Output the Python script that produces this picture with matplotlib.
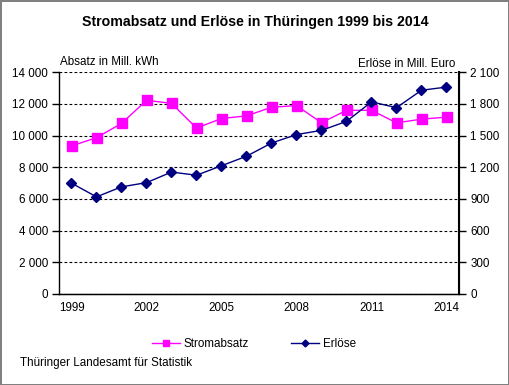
import matplotlib
matplotlib.use("Agg")
import matplotlib.pyplot as plt
from matplotlib.ticker import FuncFormatter, MultipleLocator

plt.rcParams['font.family'] = ['Liberation Sans', 'DejaVu Sans']

years = list(range(1999, 2015))
absatz = [9350, 9870, 10770, 12230, 12040, 10480, 11080, 11250,
          11790, 11900, 10810, 11600, 11600, 10810, 11040, 11170]
erloese = [1050, 920, 1015, 1055, 1155, 1125, 1215, 1305,
           1430, 1510, 1550, 1635, 1820, 1765, 1930, 1960]
year_labels = [str(y) if (y - 1999) % 3 == 0 else '' for y in years]

FS = 8.4


def thousands(v, pos):
    return f"{int(v):,}".replace(",", " ")


fig = plt.figure(figsize=(5.09, 3.85), dpi=100)
fig.patch.set_edgecolor('#808080')
fig.patch.set_linewidth(2)

ax = fig.add_axes([59 / 509, 1 - 294 / 385, 400 / 509, (294 - 72.3) / 385])
ax2 = ax.twinx()

idx = list(range(len(years)))
l1, = ax.plot(idx, absatz, color='#FF00FF', marker='s', markersize=7,
              linewidth=1, label='Stromabsatz')
l2, = ax2.plot(idx, erloese, color='#000080', marker='D', markersize=5,
               linewidth=1, label='Erlöse')

ax.set_xlim(-0.5, 15.5)
ax.set_ylim(0, 14000)
ax2.set_ylim(0, 2100)
ax.yaxis.set_major_locator(MultipleLocator(2000))
ax2.yaxis.set_major_locator(MultipleLocator(300))
ax.yaxis.set_major_formatter(FuncFormatter(thousands))
ax2.yaxis.set_major_formatter(FuncFormatter(thousands))
ax.set_xticks(idx)
ax.set_xticklabels(year_labels)
ax.tick_params(axis='x', length=0, pad=6, labelsize=FS)
ax.tick_params(axis='y', length=5, width=1, labelsize=FS, pad=3)
ax2.tick_params(axis='y', length=5, width=1, labelsize=FS, pad=3)

ax.yaxis.grid(True, linestyle=(0, (2.5, 2)), color='black', linewidth=0.8)
ax.set_axisbelow(True)
for a in (ax, ax2):
    a.spines['top'].set_visible(False)
ax2.spines['left'].set_visible(False)
ax2.spines['right'].set_linewidth(1.5)
ax.spines['left'].set_linewidth(1)
ax.spines['bottom'].set_linewidth(1)

fig.text(255 / 509, 1 - 22 / 385, 'Stromabsatz und Erlöse in Thüringen 1999 bis 2014',
         ha='center', va='center', fontsize=10.2, fontweight='bold')
fig.text(60 / 509, 1 - 62 / 385, 'Absatz in Mill. kWh', ha='left', va='center', fontsize=FS)
fig.text(455 / 509, 1 - 64 / 385, 'Erlöse in Mill. Euro', ha='right', va='center', fontsize=FS)
fig.text(20 / 509, 1 - 363 / 385, 'Thüringer Landesamt für Statistik',
         ha='left', va='center', fontsize=FS)

fig.legend(handles=[l1, l2], loc='center', bbox_to_anchor=(254 / 509, 1 - 344 / 385),
           ncol=2, frameon=False, fontsize=FS, handlelength=2.4, columnspacing=3.6,
           handletextpad=0.3, markerscale=0.7)

fig.savefig('out.png', dpi=100)
